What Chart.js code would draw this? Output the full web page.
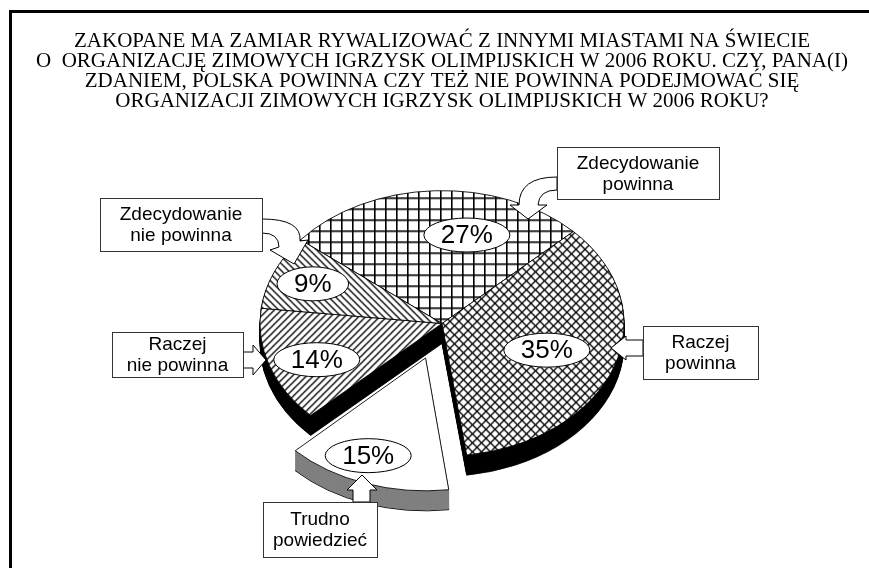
<html>
<head>
    <meta charset="utf-8">
    <title>Zakopane 2006</title>
    <script src="https://cdn.jsdelivr.net/npm/chart.js"></script>
</head>
<style>
    body { margin: 0; background: #fff; }
</style>
<body>
<canvas id="pieCanvas" width="869" height="568"></canvas>
</body>

<script>
// data
const titleLines = [
    'ZAKOPANE MA ZAMIAR RYWALIZOWAĆ Z INNYMI MIASTAMI NA ŚWIECIE',
    'O  ORGANIZACJĘ ZIMOWYCH IGRZYSK OLIMPIJSKICH W 2006 ROKU. CZY, PANA(I)',
    'ZDANIEM, POLSKA POWINNA CZY TEŻ NIE POWINNA PODEJMOWAĆ SIĘ',
    'ORGANIZACJI ZIMOWYCH IGRZYSK OLIMPIJSKICH W 2006 ROKU?'
];
const answers = ['Zdecydowanie powinna', 'Raczej powinna', 'Trudno powiedzieć', 'Raczej nie powinna', 'Zdecydowanie nie powinna'];
const shares = [27, 35, 15, 14, 9];
const exploded = [0, 0, 1, 0, 0];

const K = 0.73;      // vertical squash of the "3d" pie
const DEPTH = 20;    // side wall height in px

// label placement along the slice (radius factor, angle nudge in degrees)
const labelR = [0.68, 0.61, 0.8, 0.74, 0.77];
const labelNudge = [14, 0, 4, -3, 0];

// callout boxes and the block arrows that point into the pie
const boxes = [
    {x: 557, y: 147, w: 162, h: 52},
    {x: 643, y: 326, w: 115, h: 53},
    {x: 263, y: 502, w: 114, h: 55},
    {x: 112, y: 332, w: 131, h: 45},
    {x: 100, y: 198, w: 162, h: 53}
];

function hatch(size, draw) {
    const c = document.createElement('canvas');
    c.width = size; c.height = size;
    const g = c.getContext('2d');
    g.fillStyle = '#fff';
    g.fillRect(0, 0, size, size);
    g.strokeStyle = '#000';
    g.fillStyle = '#000';
    g.lineWidth = 1.3;
    draw(g, size);
    const p = g.createPattern(c, 'repeat');
    p.setTransform(new DOMMatrix([1, 0, 0, 1 / K, 0, 0]));
    return p;
}
function fwd(g, s) {
    g.beginPath();
    g.moveTo(0, s); g.lineTo(s, 0);
    g.moveTo(-1, 1); g.lineTo(1, -1);
    g.moveTo(s - 1, s + 1); g.lineTo(s + 1, s - 1);
    g.stroke();
}
function back(g, s) {
    g.beginPath();
    g.moveTo(0, 0); g.lineTo(s, s);
    g.moveTo(-1, s - 1); g.lineTo(1, s + 1);
    g.moveTo(s - 1, -1); g.lineTo(s + 1, 1);
    g.stroke();
}

const fills = [
    hatch(11, (g, s) => { g.fillRect(0, 0, s, 1.6); g.fillRect(0, 0, 1.6, s); }),
    hatch(9, (g, s) => { fwd(g, s); back(g, s); }),
    '#ffffff',
    hatch(7, fwd),
    hatch(7, back)
];
const sideColors = ['#000', '#000', '#808080', '#000', '#000'];

function squash(ctx, cx, cy, dy) {
    ctx.translate(0, dy);
    ctx.translate(cx, cy);
    ctx.scale(1, K);
    ctx.translate(-cx, -cy);
}
// draw an arc with other colours; the exploded slice keeps its radius
function drawAs(ctx, arc, bg, bc) {
    const o = Object.create(arc);
    const off = (arc.options.offset || 0) / 4;
    const fix = 1 - Math.sin(Math.min(Math.PI, arc.circumference || 0));
    o.outerRadius = arc.outerRadius - off * fix;
    o.options = Object.assign({}, arc.options, {backgroundColor: bg, borderColor: bc});
    arc.draw.call(o, ctx);
}

const pie3d = {
    id: 'pie3d',
    beforeDraw(chart) {
        const ctx = chart.ctx;
        ctx.save();
        ctx.fillStyle = '#000';
        ctx.fillRect(9, 10, 869, 3);
        ctx.fillRect(9, 10, 3, 568);
        ctx.restore();
    },
    beforeDatasetsDraw(chart) {
        const ctx = chart.ctx;
        const arcs = chart.getDatasetMeta(0).data;
        const cx = arcs[0].x, cy = arcs[0].y;
        const groups = [arcs.filter((a, i) => !exploded[i]), arcs.filter((a, i) => exploded[i])];
        groups.forEach(group => {
            for (let d = DEPTH; d >= 1; d--) {
                group.forEach(arc => {
                    const i = arcs.indexOf(arc);
                    ctx.save();
                    squash(ctx, cx, cy, d);
                    drawAs(ctx, arc, sideColors[i], d === DEPTH ? '#000' : sideColors[i]);
                    ctx.restore();
                });
            }
            group.forEach(arc => {
                ctx.save();
                squash(ctx, cx, cy, 0);
                drawAs(ctx, arc, arc.options.backgroundColor, '#000');
                ctx.restore();
            });
        });
        return false;
    },
    afterDraw(chart) {
        const ctx = chart.ctx;
        const arcs = chart.getDatasetMeta(0).data;
        const cx = arcs[0].x, cy = arcs[0].y;

        // block arrows
        ctx.save();
        ctx.fillStyle = '#fff';
        ctx.strokeStyle = '#000';
        ctx.lineWidth = 1;
        ctx.lineJoin = 'miter';
        const arrows = [
            p => { // curved, down-left
                p.moveTo(557, 177); p.quadraticCurveTo(519, 177, 519, 205);
                p.lineTo(510, 205); p.lineTo(528, 219); p.lineTo(547, 205);
                p.lineTo(538, 205); p.quadraticCurveTo(539, 190, 557, 190);
            },
            p => { // left
                p.moveTo(643, 340); p.lineTo(626, 340); p.lineTo(626, 336);
                p.lineTo(611, 348); p.lineTo(626, 360); p.lineTo(626, 356); p.lineTo(643, 356);
            },
            p => { // up
                p.moveTo(353, 502); p.lineTo(353, 490); p.lineTo(347, 490);
                p.lineTo(362, 475); p.lineTo(377, 490); p.lineTo(370, 490); p.lineTo(370, 502);
            },
            p => { // right
                p.moveTo(243, 352); p.lineTo(253, 352); p.lineTo(253, 345);
                p.lineTo(266, 360); p.lineTo(253, 375); p.lineTo(253, 368); p.lineTo(243, 368);
            },
            p => { // curved, down-right
                p.moveTo(262, 219); p.quadraticCurveTo(302, 219, 300, 241);
                p.lineTo(308, 240); p.lineTo(294, 264); p.lineTo(270, 250);
                p.lineTo(279, 247); p.quadraticCurveTo(279, 233, 262, 233);
            }
        ];
        arrows.forEach(f => {
            ctx.beginPath();
            f(ctx);
            ctx.closePath();
            ctx.fill();
            ctx.stroke();
        });

        // percentage ellipses
        ctx.font = '26px "Liberation Sans", Arial, sans-serif';
        ctx.textAlign = 'center';
        ctx.textBaseline = 'middle';
        arcs.forEach((arc, i) => {
            const mid = (arc.startAngle + arc.endAngle) / 2;
            const off = (arc.options.offset || 0) / 4;
            const a = mid + labelNudge[i] * Math.PI / 180;
            const r = arc.outerRadius * labelR[i];
            const ux = arc.x + Math.cos(mid) * off + Math.cos(a) * r;
            const uy = arc.y + Math.sin(mid) * off + Math.sin(a) * r;
            const sx = ux, sy = cy + (uy - cy) * K;
            const txt = shares[i] + '%';
            const w = ctx.measureText(txt).width + 34;
            ctx.beginPath();
            ctx.ellipse(sx, sy, w / 2, 17, 0, 0, Math.PI * 2);
            ctx.fillStyle = '#fff';
            ctx.fill();
            ctx.stroke();
            ctx.fillStyle = '#000';
            ctx.fillText(txt, sx, sy + 1);
        });

        // callout boxes
        ctx.font = '19px "Liberation Sans", Arial, sans-serif';
        boxes.forEach((b, i) => {
            ctx.fillStyle = '#fff';
            ctx.fillRect(b.x, b.y, b.w, b.h);
            ctx.strokeStyle = '#333';
            ctx.strokeRect(b.x + 0.5, b.y + 0.5, b.w, b.h);
            const cut = answers[i].indexOf(' ');
            const lines = [answers[i].slice(0, cut), answers[i].slice(cut + 1)];
            ctx.fillStyle = '#000';
            lines.forEach((t, j) => ctx.fillText(t, b.x + b.w / 2, b.y + b.h / 2 + (j - 0.5) * 21 + 1));
        });
        ctx.restore();
    }
};

new Chart(document.getElementById('pieCanvas'), {
    type: 'pie',
    data: {
        labels: answers,
        datasets: [{
            data: shares,
            backgroundColor: fills,
            borderColor: '#000',
            borderWidth: 1,
            offset: exploded.map(e => e * 200)
        }]
    },
    options: {
        responsive: false,
        animation: false,
        rotation: -51,
        radius: 182,
        layout: { padding: { left: 15, right: 0, top: 0, bottom: 42 } },
        plugins: {
            legend: { display: false },
            tooltip: { enabled: false },
            title: {
                display: true,
                text: titleLines,
                color: '#000',
                font: { family: '"Liberation Serif", "Times New Roman", serif', size: 21, weight: 'normal', lineHeight: 0.9524 },
                padding: { top: 31, bottom: 10 }
            }
        }
    },
    plugins: [pie3d]
});
</script>
</html>
